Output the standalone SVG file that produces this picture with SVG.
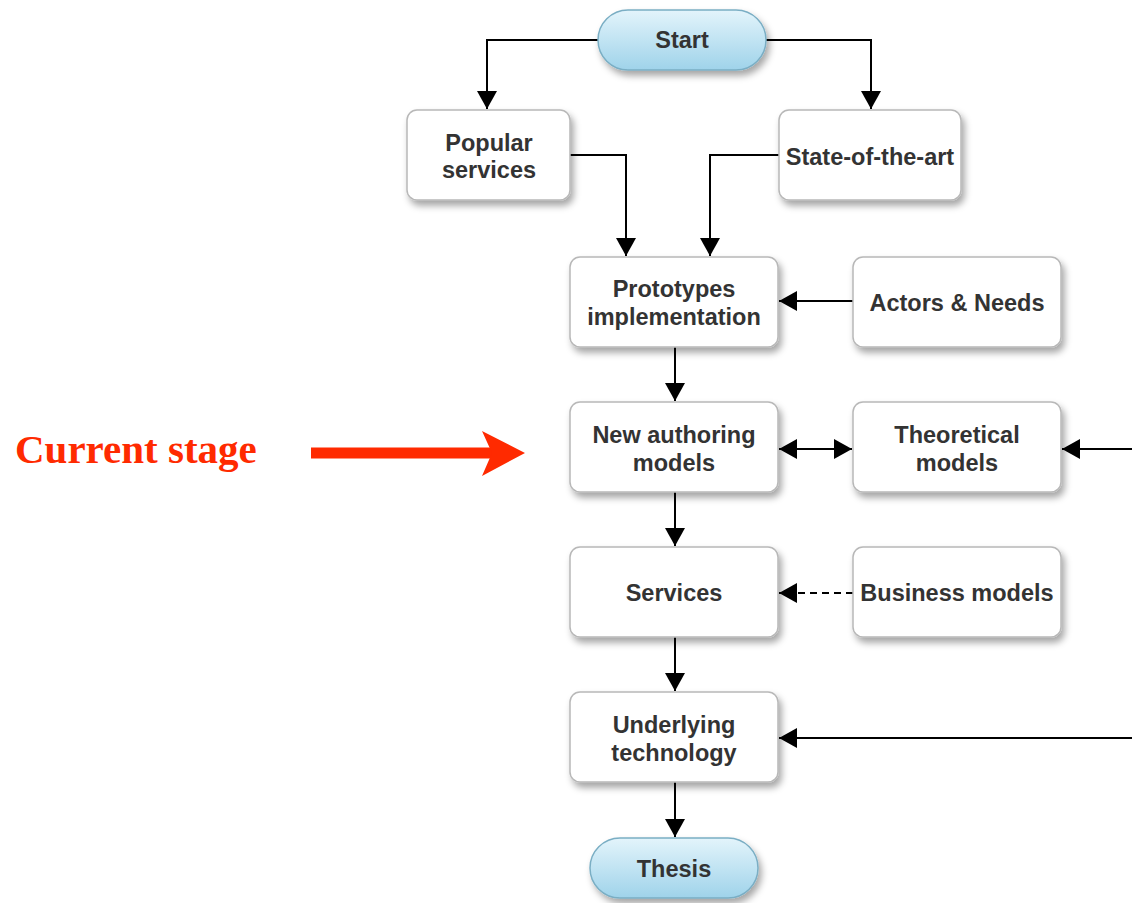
<svg xmlns="http://www.w3.org/2000/svg" width="1132" height="903" viewBox="0 0 1132 903">
<defs>
<linearGradient id="pill" x1="0" y1="0" x2="0" y2="1">
<stop offset="0" stop-color="#e3f4fb"/>
<stop offset="1" stop-color="#9fd3ea"/>
</linearGradient>
<filter id="sh" x="-20%" y="-20%" width="140%" height="150%">
<feDropShadow dx="3" dy="5" stdDeviation="3.5" flood-color="#000" flood-opacity="0.35"/>
</filter>
<marker id="ah" markerUnits="userSpaceOnUse" markerWidth="20" markerHeight="22" refX="18" refY="11" orient="auto-start-reverse" viewBox="0 0 20 22">
<path d="M0,1 L18,11 L0,21 z" fill="#000"/>
</marker>
</defs>
<style>
.box{fill:#fff;stroke:#b8b8b8;stroke-width:1.5;filter:url(#sh)}
.pill{fill:url(#pill);stroke:#7aaec4;stroke-width:1.5;filter:url(#sh)}
.t{font-family:"Liberation Sans",Arial,sans-serif;font-weight:bold;font-size:23.5px;fill:#333;text-anchor:middle}
.c{fill:none;stroke:#000;stroke-width:2}
.a{marker-end:url(#ah)}
</style>
<g id="connectors">
<path class="c a" d="M598,40 H487 V109"/>
<path class="c a" d="M766,40 H871 V109"/>
<path class="c a" d="M570,155 H626 V256"/>
<path class="c a" d="M779,155 H710 V256"/>
<path class="c a" d="M853,301 H779"/>
<path class="c a" d="M675,347 V401"/>
<path class="c a" d="M779,449 H852" style="marker-start:url(#ah)"/>
<path class="c a" d="M1132,449 H1062"/>
<path class="c a" d="M675,492 V546"/>
<path class="c a" d="M853,593 H779" stroke-dasharray="7,5"/>
<path class="c a" d="M675,637 V691"/>
<path class="c a" d="M1132,738 H779"/>
<path class="c a" d="M675,782 V837"/>
</g>
<g id="start"><rect class="pill" x="598" y="10" width="168" height="60" rx="30"/><text class="t" x="682" y="48">Start</text></g>
<g id="popular"><rect class="box" x="407" y="110" width="163" height="90" rx="10"/><text class="t" x="489" y="151">Popular</text><text class="t" x="489" y="178">services</text></g>
<g id="stateart"><rect class="box" x="779" y="110" width="182" height="90" rx="10"/><text class="t" x="870" y="165">State-of-the-art</text></g>
<g id="prototypes"><rect class="box" x="570" y="257" width="208" height="90" rx="10"/><text class="t" x="674" y="297">Prototypes</text><text class="t" x="674" y="325">implementation</text></g>
<g id="actors"><rect class="box" x="853" y="257" width="208" height="90" rx="10"/><text class="t" x="957" y="311">Actors &amp; Needs</text></g>
<g id="newauthoring"><rect class="box" x="570" y="402" width="208" height="90" rx="10"/><text class="t" x="674" y="443">New authoring</text><text class="t" x="674" y="471">models</text></g>
<g id="theoretical"><rect class="box" x="853" y="402" width="208" height="90" rx="10"/><text class="t" x="957" y="443">Theoretical</text><text class="t" x="957" y="471">models</text></g>
<g id="services"><rect class="box" x="570" y="547" width="208" height="90" rx="10"/><text class="t" x="674" y="601">Services</text></g>
<g id="business"><rect class="box" x="853" y="547" width="208" height="90" rx="10"/><text class="t" x="957" y="601">Business models</text></g>
<g id="underlying"><rect class="box" x="570" y="692" width="208" height="90" rx="10"/><text class="t" x="674" y="733">Underlying</text><text class="t" x="674" y="761">technology</text></g>
<g id="thesis"><rect class="pill" x="590" y="838" width="168" height="60" rx="30"/><text class="t" x="674" y="877">Thesis</text></g>
<g id="current">
<text x="15" y="463" font-family="'Liberation Serif','Times New Roman',serif" font-weight="bold" font-size="41" fill="#ff2a00">Current stage</text>
<path d="M311,453 H492" stroke="#ff2a00" stroke-width="11" fill="none"/>
<path d="M482,431 L525,453 L482,476 L492,453 z" fill="#ff2a00"/>
</g>
</svg>
